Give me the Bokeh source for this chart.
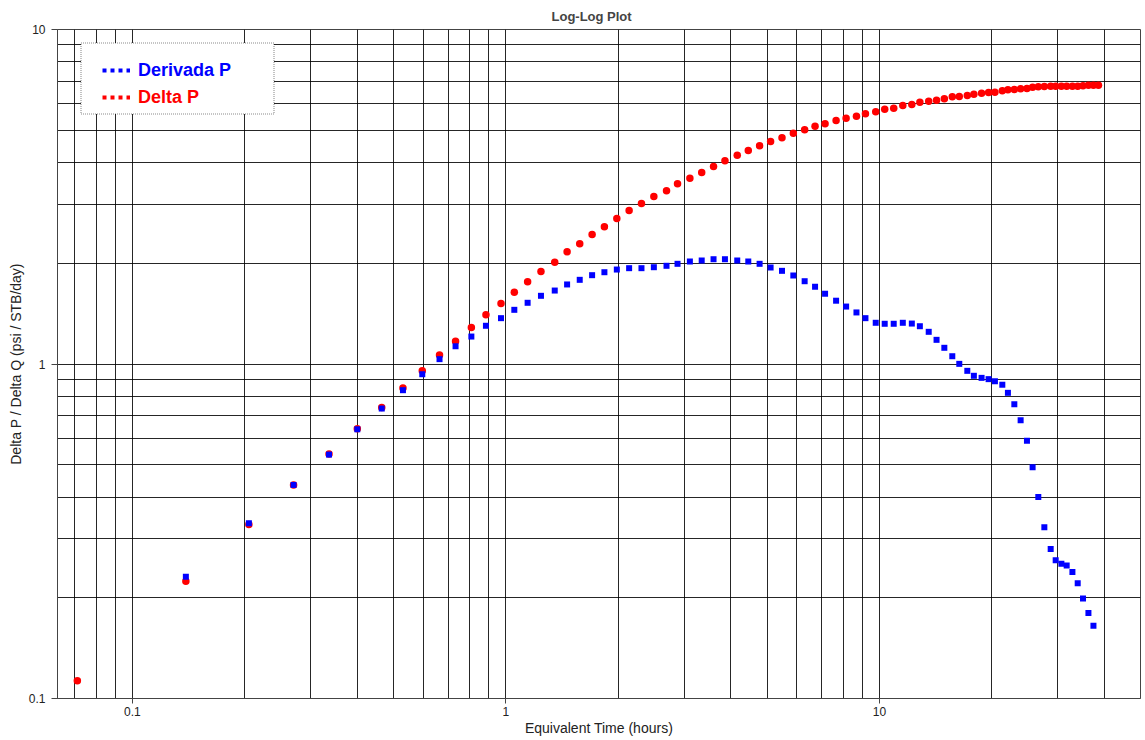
from bokeh.plotting import figure
from bokeh.models import (Range1d, FixedTicker, Legend, LegendItem,
                          CustomJSTickFormatter, BoxAnnotation)
from bokeh.embed import file_html
from bokeh.resources import INLINE

# ---------------- data ----------------
time_h = [0.0712, 0.139, 0.205, 0.270, 0.336, 0.400, 0.465, 0.530, 0.597, 0.664,
          0.733, 0.808, 0.884, 0.970, 1.053, 1.143, 1.241, 1.351, 1.458, 1.576,
          1.701, 1.835, 1.981, 2.137, 2.306, 2.489, 2.691, 2.880, 3.108, 3.343,
          3.596, 3.858, 4.162, 4.455, 4.777, 5.112, 5.484, 5.881, 6.306, 6.724,
          7.152, 7.655, 8.143, 8.679, 9.174, 9.774, 10.33, 10.92, 11.55, 12.21,
          12.83, 13.55, 14.22, 14.92, 15.67, 16.36, 17.19, 17.90, 18.77, 19.60,
          20.38, 21.33, 22.08, 22.97, 23.88, 24.83, 25.71, 26.63, 27.64, 28.74,
          29.64, 30.70, 31.72, 32.86, 33.95, 35.08, 36.27, 37.41, 38.58]

delta_p = [0.113, 0.224, 0.331, 0.435, 0.538, 0.640, 0.741, 0.847, 0.954, 1.064,
           1.170, 1.286, 1.403, 1.516, 1.640, 1.761, 1.890, 2.016, 2.165, 2.287,
           2.439, 2.572, 2.723, 2.877, 3.018, 3.167, 3.294, 3.456, 3.593, 3.737,
           3.894, 4.051, 4.210, 4.348, 4.491, 4.626, 4.745, 4.898, 5.014, 5.139,
           5.225, 5.345, 5.430, 5.505, 5.597, 5.675, 5.773, 5.817, 5.922, 5.967,
           6.059, 6.105, 6.146, 6.210, 6.290, 6.305, 6.349, 6.406, 6.451, 6.485,
           6.490, 6.558, 6.600, 6.617, 6.649, 6.663, 6.722, 6.741, 6.755, 6.769,
           6.769, 6.769, 6.769, 6.769, 6.769, 6.788, 6.816, 6.816, 6.816]

deriv_time = time_h[1:78]
derivada_p = [0.231, 0.334, 0.435, 0.536, 0.638, 0.736, 0.835, 0.932, 1.034,
              1.130, 1.208, 1.301, 1.371, 1.452, 1.524, 1.599, 1.658, 1.729,
              1.785, 1.843, 1.881, 1.916, 1.934, 1.934, 1.947, 1.966, 1.993,
              2.025, 2.039, 2.057, 2.057, 2.039, 2.025, 1.993, 1.943, 1.899,
              1.839, 1.768, 1.702, 1.622, 1.546, 1.485, 1.426, 1.371, 1.328,
              1.319, 1.319, 1.328, 1.321, 1.297, 1.248, 1.181, 1.118, 1.055,
              1.001, 0.954, 0.922, 0.909, 0.901, 0.888, 0.867, 0.820, 0.758,
              0.679, 0.590, 0.491, 0.400, 0.325, 0.280, 0.259, 0.253, 0.250,
              0.239, 0.221, 0.199, 0.180, 0.165]

x_major = [0.1, 1, 10]
x_minor = [0.07, 0.08, 0.09, 0.2, 0.3, 0.4, 0.5, 0.6, 0.7, 0.8, 0.9,
           2, 3, 4, 5, 6, 7, 8, 9, 20, 30, 40]
y_major = [0.1, 1, 10]
y_minor = [0.2, 0.3, 0.4, 0.5, 0.6, 0.7, 0.8, 0.9, 2, 3, 4, 5, 6, 7, 8, 9]

title_text = "Log-Log Plot"
x_label = "Equivalent Time (hours)"
y_label = "Delta P / Delta Q (psi / STB/day)"
series_names = ["Derivada P", "Delta P"]

# ---------------- figure ----------------
FONT = "Liberation Sans"

p = figure(x_axis_type="log", y_axis_type="log",
           x_range=Range1d(0.063, 50), y_range=Range1d(0.1, 10),
           frame_width=1083, frame_height=669,
           min_border_left=57, min_border_right=4, min_border_top=29,
           min_border_bottom=0,
           output_backend="svg", toolbar_location=None,
           x_axis_label=x_label, y_axis_label=y_label)

p.title.text = title_text
p.title.align = "left"
p.title.offset = 494
p.title.text_font = FONT
p.title.text_font_size = "13px"
p.title.text_font_style = "bold"
p.title.standoff = 12

p.xaxis.ticker = FixedTicker(ticks=x_major, minor_ticks=x_minor)
p.yaxis.ticker = FixedTicker(ticks=y_major, minor_ticks=y_minor)
p.xaxis.formatter = CustomJSTickFormatter(code="return tick.toString()")
p.yaxis.formatter = CustomJSTickFormatter(code="return tick.toString()")

p.grid.grid_line_color = "black"
p.grid.grid_line_alpha = 0.85
p.grid.minor_grid_line_color = "black"
p.grid.minor_grid_line_alpha = 0.85
p.outline_line_color = "#444444"

p.axis.axis_line_color = "#444444"
p.axis.major_tick_line_color = "#444444"
p.axis.major_tick_in = 0
p.axis.minor_tick_line_color = None
p.axis.major_label_text_font = FONT
p.axis.major_label_text_font_size = "12px"
p.axis.major_label_text_color = "#222222"
p.axis.axis_label_text_font = FONT
p.axis.axis_label_text_font_size = "14px"
p.axis.axis_label_text_font_style = "normal"
p.axis.axis_label_text_color = "#222222"
p.xaxis.major_tick_out = 5
p.xaxis.major_label_standoff = 3
p.xaxis.axis_label_standoff = 1
p.yaxis.major_tick_out = 6
p.yaxis.major_label_standoff = 6
p.yaxis.axis_label_standoff = 2

# data marks
p.scatter(time_h, delta_p, marker="circle", size=7.5,
          fill_color="#ff0000", line_color=None)
p.scatter(deriv_time, derivada_p, marker="square", size=6,
          fill_color="#0000ff", line_color=None)

# legend (dotted symbols come from hidden line renderers of the series)
leg_blue = p.line(deriv_time, derivada_p, line_color="#0000ff", line_width=4,
                  line_dash="4 4", visible=False)
leg_red = p.line(time_h, delta_p, line_color="#ff0000", line_width=4,
                 line_dash="4 4", visible=False)

box = BoxAnnotation(left=23.5, right=216.5, bottom=584.5, top=655.5,
                    left_units="screen", right_units="screen",
                    top_units="screen", bottom_units="screen",
                    fill_color="white", fill_alpha=1.0,
                    line_color="black", line_dash="1 1", line_width=1.6)
p.add_layout(box)


def make_legend(label, renderer, color, loc):
    return Legend(items=[LegendItem(label=label, renderers=[renderer])],
                  location=loc, padding=0, spacing=0, margin=0,
                  glyph_width=28, glyph_height=22, label_height=22,
                  label_standoff=8, label_text_font=FONT,
                  label_text_font_style="bold", label_text_font_size="18px",
                  label_text_color=color, border_line_color=None,
                  background_fill_alpha=0, inactive_fill_alpha=0)


p.add_layout(make_legend(series_names[0], leg_blue, "#0000ff", (45, 617)))
p.add_layout(make_legend(series_names[1], leg_red, "#ff0000", (45, 590)))

open("out.html", "w").write(file_html(p, INLINE))
